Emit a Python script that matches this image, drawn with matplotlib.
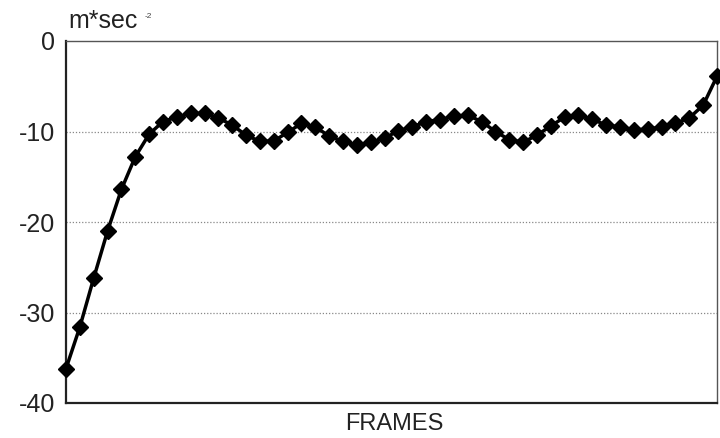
import matplotlib.pyplot as plt

plt.rcParams["font.family"] = ["Liberation Sans", "DejaVu Sans"]

# acceleration per frame
accel = [
    -36.2, -31.6, -26.2, -21.0, -16.4, -12.8, -10.3, -8.9, -8.4, -8.0,
    -8.0, -8.5, -9.3, -10.4, -11.1, -11.05, -10.1, -9.1, -9.5, -10.5,
    -11.1, -11.5, -11.2, -10.75, -9.9, -9.5, -8.9, -8.7, -8.3, -8.2,
    -8.9, -10.0, -10.9, -11.2, -10.4, -9.4, -8.4, -8.2, -8.65, -9.3,
    -9.5, -9.8, -9.75, -9.5, -9.1, -8.5, -7.1, -3.9,
]
frames = list(range(len(accel)))
yticks = [0, -10, -20, -30, -40]

fig = plt.figure(figsize=(7.2, 4.38), dpi=100)
ax = fig.add_axes([66 / 720, 1 - 403 / 438, (717 - 66) / 720, (403 - 41) / 438])

ax.plot(frames, accel, color="black", lw=2.5, marker="D", markersize=8,
        markeredgecolor="black", markerfacecolor="black", clip_on=False, zorder=3)

ax.set_xlim(0, len(accel) - 1)
ax.set_ylim(-40, 0)
ax.set_yticks(yticks)
ax.set_yticklabels([str(t) for t in yticks], fontsize=18, color="#222222")
ax.set_xticks([])
ax.tick_params(axis="y", length=0, pad=8)
for t in [-10, -20, -30]:
    ax.axhline(t, color="#888888", lw=0.9, ls=(0, (1, 1.5)), zorder=1)

for side in ["left", "bottom"]:
    ax.spines[side].set_linewidth(1.6)
    ax.spines[side].set_color("#222222")
for side in ["top", "right"]:
    ax.spines[side].set_linewidth(1.0)
    ax.spines[side].set_color("#555555")

fig.text(68 / 720, 1 - 21 / 438, "m*sec", fontsize=18, color="#222222",
         ha="left", va="center")
fig.text(145 / 720, 1 - 16 / 438, "-2", fontsize=6, color="#444444",
         ha="left", va="center")
fig.text(394 / 720, 1 - 424 / 438, "FRAMES", fontsize=17, color="#222222",
         ha="center", va="center")

fig.savefig("out.png", dpi=100)
